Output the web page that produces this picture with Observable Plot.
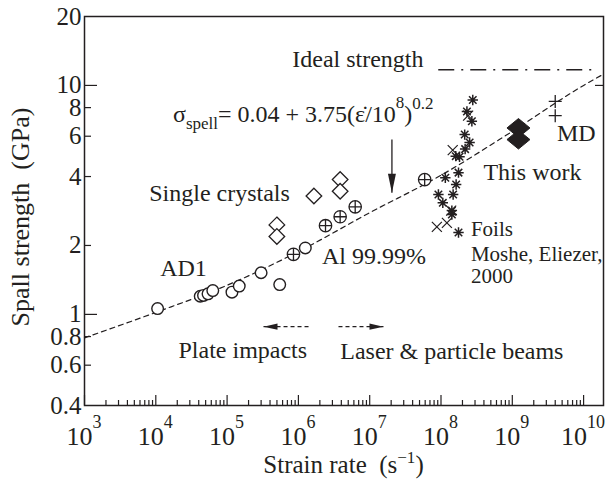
<!DOCTYPE html>
<html><head><meta charset="utf-8">
<script src="https://cdn.jsdelivr.net/npm/d3@7"></script>
<script src="https://cdn.jsdelivr.net/npm/@observablehq/plot@0.6"></script>
<style>html,body{margin:0;padding:0;background:#fff;}</style>
</head><body><div id="chart"></div>
<script>
// ---------- data ----------
// AD1 plate impacts (open circles)
const ad1Rate = [1.06e4, 4.2e4, 4.67e4, 5.4e4, 6.3e4, 1.17e5, 1.48e5, 3.0e5, 5.47e5, 1.25e6];
const ad1Strength = [1.06, 1.20, 1.21, 1.23, 1.27, 1.25, 1.33, 1.52, 1.35, 1.95];
// Al 99.99% (circled plus)
const alRate = [8.53e5, 2.4e6, 3.85e6, 6.26e6, 5.9e7];
const alStrength = [1.83, 2.44, 2.67, 2.95, 3.88];
// Single crystals (open diamonds)
const crystalRate = [4.99e5, 4.99e5, 1.65e6, 3.85e6, 3.85e6];
const crystalStrength = [2.46, 2.19, 3.29, 3.88, 3.45];
// Laser experiments (asterisks)
const laserRate = [2.79e8, 2.31e8, 2.71e8, 2.15e8, 2.52e8, 2.18e8, 1.61e8, 1.82e8, 1.76e8, 1.15e8, 1.63e8, 9.2e7, 1.48e8, 1.06e8, 1.42e8, 1.42e8, 1.76e8];
const laserStrength = [8.64, 7.70, 6.97, 6.10, 5.63, 5.27, 4.91, 4.88, 4.16, 3.95, 3.69, 3.34, 3.34, 3.07, 2.84, 2.73, 2.28];
// Foils, Moshe, Eliezer 2000 (crosses)
const foilRate = [8.75e7, 1.21e8, 1.46e8, 2.40e8, 1.39e8];
const foilStrength = [2.41, 2.51, 5.22, 7.38, 2.84];
// This work (filled diamonds)
const thisWorkRate = [1.22e9, 1.22e9];
const thisWorkStrength = [6.52, 5.80];
// MD (plus)
const mdRate = [4.0e9, 4.0e9];
const mdStrength = [8.51, 7.38];
// Fit curve (dashed)
const fitRate = [1e3, 1e4, 1e5, 1e6, 1e7, 1e8, 1e9, 1e10, 1.9e10];
const fitStrength = [0.79, 1.02, 1.34, 1.88, 2.78, 4.05, 6.30, 10.0, 11.2];
// Ideal strength (dash-dot)
const idealStrength = 11.7;
const idealRateRange = [9.3e7, 1.6e10];
// Axis ticks
const yTickLabels = [20, 10, 8, 6, 4, 2, 1, 0.8, 0.6, 0.4];
const yMajorTicks = [10, 1];
const yMinorTicks = [8, 6, 4, 2, 0.8, 0.6];
const xTickExponents = [3, 4, 5, 6, 7, 8, 9, 10];
const xMinorMultipliers = [2, 3, 4, 5, 6, 7, 8, 9];
// Annotation texts with their anchor in data coordinates
const labelTexts = ["Ideal strength", "Single crystals", "AD1", "Al 99.99%", "This work", "MD", "Plate impacts", "Laser & particle beams"];
const labelRates = [8.2e5, 8.08e3, 1.15e4, 2.14e6, 3.94e8, 4.22e9, 2.08e4, 3.86e6];
const labelStrengths = [13.0, 3.37, 1.587, 1.785, 4.19, 6.16, 0.70, 0.688];
const foilLabelTexts = ["Foils", "Moshe, Eliezer,", "2000"];
const foilLabelRates = [2.63e8, 2.63e8, 2.63e8];
const foilLabelStrengths = [2.348, 1.826, 1.47];
// Arrows
const plateArrow = {from: 1.387e6, to: 3.24e5, strength: 0.884};
const laserArrow = {from: 3.65e6, to: 1.56e7, strength: 0.884};
const formulaArrow = {rate: 2.05e7, from: 5.80, to: 3.40};
const formulaAnchor = {rate: 1.77e4, strength: 6.86};

// ---------- layout ----------
const W = 607, H = 483;
const mL = 84, mR = 4, mT = 16, mB = 78;
const innerW = W - mL - mR, innerH = H - mT - mB;
const INK = "#231f20";
const FONT = "'Liberation Serif','Times New Roman',serif";

const pts = (xs, ys) => xs.map((x, i) => ({x, y: ys[i]}));
const xMajor = xTickExponents.map(e => 10 ** e);
const xMinor = xTickExponents.slice(0, -1).flatMap(e => xMinorMultipliers.map(m => m * 10 ** e));

// custom symbols
const rad = s => Math.sqrt(s / Math.PI);
const symCirclePlus = {draw(c, s) { const r = rad(s); c.moveTo(r, 0); c.arc(0, 0, r, 0, 2 * Math.PI); c.moveTo(-r, 0); c.lineTo(r, 0); c.moveTo(0, -r); c.lineTo(0, r); }};
const symDiamond = {draw(c, s) { const r = rad(s); c.moveTo(0, -r); c.lineTo(r, 0); c.lineTo(0, r); c.lineTo(-r, 0); c.closePath(); }};
const symWideDiamond = {draw(c, s) { const r = rad(s), h = 0.82 * r; c.moveTo(0, -h); c.lineTo(r, 0); c.lineTo(0, h); c.lineTo(-r, 0); c.closePath(); }};
const symPlus = {draw(c, s) { const r = rad(s); c.moveTo(-r, 0); c.lineTo(r, 0); c.moveTo(0, -r); c.lineTo(0, r); }};
const symTimes = {draw(c, s) { const r = rad(s); c.moveTo(-r, -r); c.lineTo(r, r); c.moveTo(-r, r); c.lineTo(r, -r); }};
const symStar = {draw(c, s) { const r = rad(s), d = r * 0.72; c.moveTo(-r, 0); c.lineTo(r, 0); c.moveTo(0, -r); c.lineTo(0, r); c.moveTo(-d, -d); c.lineTo(d, d); c.moveTo(-d, d); c.lineTo(d, -d); }};
const headLeft = {draw(c, s) { const L = rad(s), w = L * 0.22; c.moveTo(0, 0); c.lineTo(L, -w); c.lineTo(L, w); c.closePath(); }};
const headRight = {draw(c, s) { const L = rad(s), w = L * 0.22; c.moveTo(0, 0); c.lineTo(-L, -w); c.lineTo(-L, w); c.closePath(); }};
const headDown = {draw(c, s) { const L = rad(s), w = L * 0.21; c.moveTo(0, 0); c.lineTo(-w, -L); c.lineTo(w, -L); c.closePath(); }};

// rich text (sub/superscripts) drawn with the plot's scales
function richText(specs) {
  return function(index, scales, values, dims) {
    const g = d3.create("svg:g").attr("font-family", FONT).attr("fill", INK);
    for (const s of specs) {
      const [px, py] = s.pos(scales, dims);
      const t = g.append("text").attr("x", px).attr("y", py).attr("text-anchor", s.anchor || "start");
      let cur = 0;
      for (const p of s.parts) {
        const sh = p.shift || 0;
        t.append("tspan").attr("dy", sh - cur).attr("font-size", p.size).text(p.text);
        cur = sh;
      }
    }
    return g.node();
  };
}

const richSpecs = [
  ...xMajor.map((v, i) => ({
    pos: (sc, d) => [sc.x(v), d.height - d.marginBottom + 40], anchor: "middle",
    parts: [{text: "10", size: 26}, {text: String(xTickExponents[i]), size: 18, shift: -17}]
  })),
  {
    pos: (sc) => [sc.x(formulaAnchor.rate), sc.y(formulaAnchor.strength)],
    parts: [
      {text: "\u03C3", size: 24}, {text: "spell", size: 17, shift: 7},
      {text: "= 0.04 + 3.75(\u03B5\u0307/10", size: 24}, {text: "8", size: 17, shift: -14},
      {text: ")", size: 24}, {text: "0.2", size: 17, shift: -13}
    ]
  },
  {
    pos: (sc, d) => [(d.marginLeft + d.width - d.marginRight) / 2, d.height - 10], anchor: "middle",
    parts: [{text: "Strain rate\u00A0 (s", size: 25}, {text: "\u22121", size: 17, shift: -10}, {text: ")", size: 25}]
  }
];

const labels = labelTexts.map((t, i) => ({t, x: labelRates[i], y: labelStrengths[i]}));
const foilLabels = foilLabelTexts.map((t, i) => ({t, x: foilLabelRates[i], y: foilLabelStrengths[i]}));

const chart = Plot.plot({
  width: W, height: H,
  marginLeft: mL, marginRight: mR, marginTop: mT, marginBottom: mB,
  style: {fontFamily: FONT, background: "#fff", color: INK, overflow: "visible"},
  x: {type: "log", domain: [1e3, 10 ** (3 + innerW / 71.3)], axis: null},
  y: {type: "log", domain: [0.4, 20], axis: null},
  marks: [
    // fit curve and ideal strength
    Plot.line(pts(fitRate, fitStrength), {x: "x", y: "y", curve: "monotone-x", stroke: INK, strokeWidth: 1.2, strokeDasharray: "5,4"}),
    Plot.ruleY([idealStrength], {y: d => d, x1: idealRateRange[0], x2: idealRateRange[1], stroke: INK, strokeWidth: 1.5, strokeDasharray: "16,7,2,7"}),
    // ticks
    Plot.tickX(xMajor, {x: d => d, insetTop: innerH - 10, stroke: INK, strokeWidth: 1.2}),
    Plot.tickX(xMinor, {x: d => d, insetTop: innerH - 5, stroke: INK, strokeWidth: 1.2}),
    Plot.tickY(yMajorTicks, {y: d => d, insetRight: innerW - 13, stroke: INK, strokeWidth: 1.2}),
    Plot.tickY(yMinorTicks, {y: d => d, insetRight: innerW - 7, stroke: INK, strokeWidth: 1.2}),
    Plot.tickY([10], {y: d => d, insetLeft: innerW - 8, stroke: INK, strokeWidth: 1.2}),
    Plot.frame({stroke: INK, strokeWidth: 1.5}),
    // y tick labels
    Plot.text(yTickLabels, {y: d => d, text: d => String(d), frameAnchor: "left", dx: -3, textAnchor: "end", fontSize: 25, fill: INK}),
    // y title
    Plot.text(["Spall strength\u00A0 (GPa)"], {frameAnchor: "left", dx: -64, dy: 6, rotate: -90, textAnchor: "middle", fontSize: 26, fill: INK}),
    // data
    Plot.dot(pts(ad1Rate, ad1Strength), {x: "x", y: "y", symbol: "circle", r: 5.8, fill: "#fff", stroke: INK, strokeWidth: 1.4}),
    Plot.dot(pts(crystalRate, crystalStrength), {x: "x", y: "y", symbol: symDiamond, r: 7.8, fill: "#fff", stroke: INK, strokeWidth: 1.3}),
    Plot.dot(pts(alRate, alStrength), {x: "x", y: "y", symbol: symCirclePlus, r: 6.2, fill: "#fff", stroke: INK, strokeWidth: 1.3}),
    Plot.dot(pts(foilRate, foilStrength), {x: "x", y: "y", symbol: symTimes, r: 5, fill: "none", stroke: INK, strokeWidth: 1.2}),
    Plot.dot(pts(laserRate, laserStrength), {x: "x", y: "y", symbol: symStar, r: 5.2, fill: "none", stroke: INK, strokeWidth: 1.5}),
    Plot.dot(pts(thisWorkRate, thisWorkStrength), {x: "x", y: "y", symbol: symWideDiamond, r: 11.5, fill: INK, stroke: INK, strokeWidth: 1}),
    Plot.dot(pts(mdRate, mdStrength), {x: "x", y: "y", symbol: symPlus, r: 6.5, fill: "none", stroke: INK, strokeWidth: 1.3}),
    // arrows
    Plot.link([plateArrow, laserArrow], {x1: "from", x2: "to", y1: "strength", y2: "strength", stroke: INK, strokeWidth: 1.2, strokeDasharray: "4,3"}),
    Plot.dot([plateArrow], {x: "to", y: "strength", symbol: headLeft, r: 14, fill: INK, stroke: "none"}),
    Plot.dot([laserArrow], {x: "to", y: "strength", symbol: headRight, r: 14, fill: INK, stroke: "none"}),
    Plot.link([formulaArrow], {x1: "rate", x2: "rate", y1: "from", y2: "to", stroke: INK, strokeWidth: 1.3}),
    Plot.dot([formulaArrow], {x: "rate", y: "to", symbol: headDown, r: 19, fill: INK, stroke: "none"}),
    // labels
    Plot.text(labels, {x: "x", y: "y", text: "t", textAnchor: "start", fontSize: 24, fill: INK}),
    Plot.text(foilLabels, {x: "x", y: "y", text: "t", textAnchor: "start", fontSize: 21, fill: INK}),
    richText(richSpecs)
  ]
});
document.getElementById("chart").appendChild(chart);
</script>
</body></html>
